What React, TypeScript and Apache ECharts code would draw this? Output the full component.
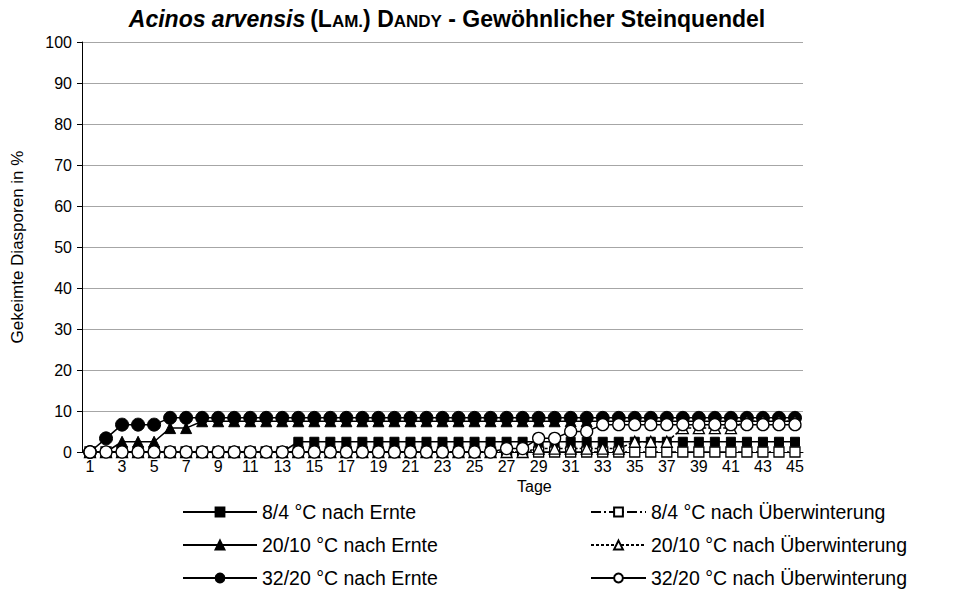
import React, { useEffect, useRef } from "react";
import * as echarts from "echarts";

const days = ["1","2","3","4","5","6","7","8","9","10","11","12","13","14","15","16","17","18","19","20","21","22","23","24","25","26","27","28","29","30","31","32","33","34","35","36","37","38","39","40","41","42","43","44","45"];

const s84Ernte = [0,0,0,0,0,0,0,0,0,0,0,0,0,2.5,2.5,2.5,2.5,2.5,2.5,2.5,2.5,2.5,2.5,2.5,2.5,2.5,2.5,2.5,2.5,2.5,2.5,2.5,2.5,2.5,2.5,2.5,2.5,2.5,2.5,2.5,2.5,2.5,2.5,2.5,2.5];
const s2010Ernte = [0,0,2.5,2.5,2.5,5.83,5.83,7.5,7.5,7.5,7.5,7.5,7.5,7.5,7.5,7.5,7.5,7.5,7.5,7.5,7.5,7.5,7.5,7.5,7.5,7.5,7.5,7.5,7.5,7.5,7.5,7.5,7.5,7.5,7.5,7.5,7.5,7.5,7.5,7.5,7.5,7.5,7.5,7.5,7.5];
const s3220Ernte = [0,3.33,6.67,6.67,6.67,8.33,8.33,8.33,8.33,8.33,8.33,8.33,8.33,8.33,8.33,8.33,8.33,8.33,8.33,8.33,8.33,8.33,8.33,8.33,8.33,8.33,8.33,8.33,8.33,8.33,8.33,8.33,8.33,8.33,8.33,8.33,8.33,8.33,8.33,8.33,8.33,8.33,8.33,8.33,8.33];
const s84Ueber = [0,0,0,0,0,0,0,0,0,0,0,0,0,0,0,0,0,0,0,0,0,0,0,0,0,0,0,0,0,0,0,0,0,0,0,0,0,0,0,0,0,0,0,0,0];
const s2010Ueber = [0,0,0,0,0,0,0,0,0,0,0,0,0,0,0,0,0,0,0,0,0,0,0,0,0,0,0,0,0.83,0.83,0.83,0.83,0.83,0.83,2.5,2.5,2.5,5.83,5.83,5.83,5.83,7.5,7.5,7.5,7.5];
const s3220Ueber = [0,0,0,0,0,0,0,0,0,0,0,0,0,0,0,0,0,0,0,0,0,0,0,0,0,0,0.83,0.83,3.33,3.33,5,5,6.67,6.67,6.67,6.67,6.67,6.67,6.67,6.67,6.67,6.67,6.67,6.67,6.67];

const names = [
  "8/4 °C nach Ernte",
  "20/10 °C nach Ernte",
  "32/20 °C nach Ernte",
  "8/4 °C nach Überwinterung",
  "20/10 °C nach Überwinterung",
  "32/20 °C nach Überwinterung",
];

const FONT = "Liberation Sans, Arial, sans-serif";

export default function App() {
  const ref = useRef<HTMLDivElement>(null);
  useEffect(() => {
    document.body.style.margin = "0";
    if (!ref.current) return;
    const chart = echarts.init(ref.current, null, { renderer: "svg" });
    const filled = { color: "#000", borderColor: "#000", borderWidth: 1 };
    const open = { color: "#fff", borderColor: "#000", borderWidth: 1.3 };
    const mk = (name: string, data: number[], symbol: string, size: number, item: any, lineType: any) => ({
      name,
      type: "line",
      data,
      symbol,
      symbolSize: size,
      showAllSymbol: true,
      itemStyle: item,
      lineStyle: { color: "#000", width: 1.5, type: lineType },
      emphasis: { disabled: true },
    });
    const big = 23;
    const small = 17;
    const lhBig = 27;
    const lhSmall = 23;
    chart.setOption({
      animation: false,
      textStyle: { fontFamily: FONT },
      title: {
        left: 447,
        textAlign: "center",
        top: 3,
        padding: 0,
        text: "{i|Acinos arvensis} {b|(L}{s|AM.}{b|) D}{s|ANDY}{b| - Gewöhnlicher Steinquendel}",
        textStyle: {
          rich: {
            i: { fontFamily: FONT, fontSize: big, lineHeight: lhBig, verticalAlign: "bottom", fontWeight: "bold", fontStyle: "italic", color: "#000" },
            b: { fontFamily: FONT, fontSize: big, lineHeight: lhBig, verticalAlign: "bottom", fontWeight: "bold", color: "#000" },
            s: { fontFamily: FONT, fontSize: small, lineHeight: lhSmall, verticalAlign: "bottom", fontWeight: "bold", color: "#000" },
          },
        },
      },
      grid: { left: 82, right: 177, top: 42, bottom: 137, containLabel: false },
      xAxis: {
        type: "category",
        data: days,
        boundaryGap: true,
        axisLine: { lineStyle: { color: "#000", width: 1 } },
        axisTick: { interval: 0, length: 5, lineStyle: { color: "#000" } },
        axisLabel: { interval: 1, color: "#000", fontSize: 16, fontFamily: FONT, margin: 6 },
      },
      yAxis: {
        type: "value",
        min: 0,
        max: 100,
        interval: 10,
        name: "Gekeimte Diasporen in %",
        nameLocation: "middle",
        nameGap: 56,
        nameTextStyle: { color: "#000", fontSize: 17, fontFamily: FONT },
        axisLine: { show: true, lineStyle: { color: "#000", width: 1 } },
        axisTick: { show: true, length: 5, lineStyle: { color: "#000" } },
        axisLabel: { color: "#000", fontSize: 16, fontFamily: FONT, margin: 10 },
        splitLine: { lineStyle: { color: "#a6a6a6", width: 1 } },
      },
      legend: [
        {
          orient: "vertical",
          left: 182,
          top: 502,
          height: 86,
          padding: 0,
          itemWidth: 74,
          itemHeight: 11,
          itemGap: 13,
          data: names.slice(0, 3),
          textStyle: { color: "#000", fontSize: 19.5, fontFamily: FONT },
          selectedMode: false,
        },
        {
          orient: "vertical",
          left: 590,
          top: 502,
          height: 86,
          padding: 0,
          itemWidth: 55,
          itemHeight: 11,
          itemGap: 13,
          data: names.slice(3, 6),
          textStyle: { color: "#000", fontSize: 19.5, fontFamily: FONT },
          selectedMode: false,
        },
      ],
      graphic: [
        {
          type: "text",
          left: 517,
          top: 478,
          style: { text: "Tage", fill: "#000", font: `16px ${FONT}` },
        },
      ],
      series: [
        mk(names[0], s84Ernte, "rect", 9, filled, "solid"),
        mk(names[1], s2010Ernte, "triangle", 11, filled, "solid"),
        mk(names[2], s3220Ernte, "circle", 13, filled, "solid"),
        mk(names[3], s84Ueber, "rect", 10, open, [10, 3, 2, 3]),
        mk(names[4], s2010Ueber, "triangle", 11, open, [3, 2]),
        mk(names[5], s3220Ueber, "circle", 12, open, "solid"),
      ],
    });
    return () => chart.dispose();
  }, []);
  return <div ref={ref} style={{ width: 980, height: 589 }} />;
}
